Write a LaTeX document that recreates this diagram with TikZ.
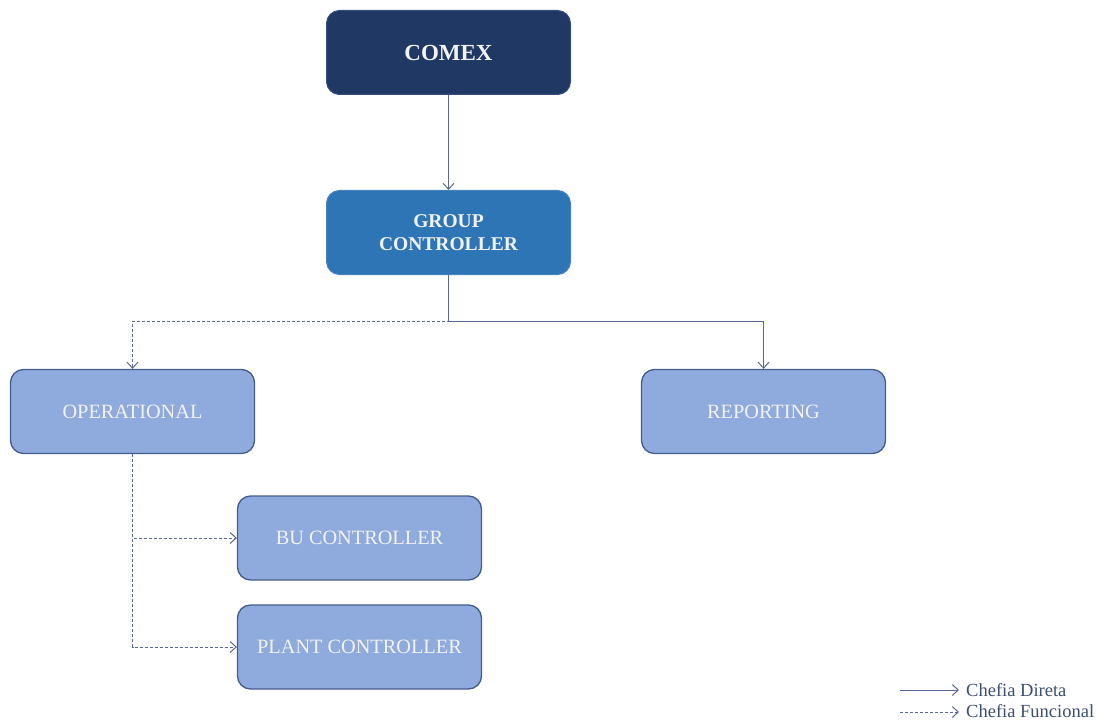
\documentclass[tikz,border=0pt]{standalone}
\usepackage{fontspec}
\setmainfont{Liberation Serif}
\usetikzlibrary{arrows.meta}
\definecolor{navy}{RGB}{31,56,100}
\definecolor{navyedge}{RGB}{52,78,125}
\definecolor{midblue}{RGB}{46,117,182}
\definecolor{midedge}{RGB}{70,130,190}
\definecolor{lightfill}{RGB}{143,170,220}
\definecolor{lightedge}{RGB}{68,92,140}
\definecolor{linecol}{RGB}{88,104,146}
\definecolor{boxtext}{RGB}{242,242,242}
\definecolor{legtext}{RGB}{60,78,112}
\tikzset{
  box/.style={rectangle, rounded corners=13pt, minimum width=244pt, minimum height=84pt, inner sep=0pt, align=center, text=boxtext},
  topbox/.style={box, fill=navy, draw=navyedge, line width=1pt, font=\bfseries\fontsize{23}{26}\selectfont},
  gcbox/.style={box, fill=midblue, draw=midedge, line width=1pt, font=\bfseries\fontsize{19.5}{23}\selectfont},
  lightbox/.style={box, fill=lightfill, draw=lightedge, line width=1.3pt, font=\fontsize{20.3}{23}\selectfont},
  conn/.style={draw=linecol, line width=1pt, -{Straight Barb[length=6pt,width=11pt]}},
  funcconn/.style={conn, dash pattern=on 3pt off 2pt},
  legend/.style={anchor=west, inner sep=0pt, text=legtext, font=\fontsize{18.5}{20}\selectfont}
}
\begin{document}
\begin{tikzpicture}[x=1pt,y=-1pt]
\useasboundingbox (0,0) rectangle (1105,722);
\node[topbox] (comex) at (448.5,52.5) {COMEX};
\node[gcbox] (gc) at (448.5,232.5) {GROUP\\CONTROLLER};
\node[lightbox] (op) at (132.5,411.5) {OPERATIONAL};
\node[lightbox] (rep) at (763.5,411.5) {REPORTING};
\node[lightbox] (bu) at (359.5,538) {BU CONTROLLER};
\node[lightbox] (plant) at (359.5,647) {PLANT CONTROLLER};
\coordinate (j) at (448.5,321);
\draw[conn] (comex.south) -- (gc.north);
\draw[conn] (gc.south) -- (j) -| (rep.north);
\draw[funcconn] (gc.south) -- (j) -| (op.north);
\draw[funcconn] (op.south) |- (bu.west);
\draw[funcconn] (op.south) |- (plant.west);
% legend
\coordinate (la1) at (900,690);
\coordinate (la2) at (959,690);
\coordinate (lb1) at (900,712);
\coordinate (lb2) at (959,712);
\draw[conn] (la1) -- (la2);
\draw[funcconn] (lb1) -- (lb2);
\node[legend] (ld) at (966,690) {Chefia Direta};
\node[legend] (lf) at (966,711.5) {Chefia Funcional};
\end{tikzpicture}
\end{document}
